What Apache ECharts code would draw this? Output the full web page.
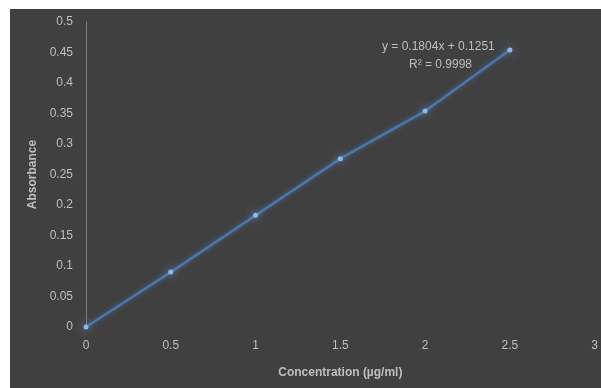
<!DOCTYPE html>
<html>
<head>
<meta charset="utf-8">
<script src="https://cdn.jsdelivr.net/npm/echarts@6/dist/echarts.min.js"></script>
<style>
  html, body { margin: 0; padding: 0; background: #ffffff; overflow: hidden; }
  #chart { position: absolute; left: 10px; top: 9px; width: 591px; height: 379px; background: #404040; }
</style>
</head>
<body>
<div id="chart"></div>
<script>
// Data
const concentration = [0, 0.5, 1, 1.5, 2, 2.5];
const absorbance = [0, 0.090, 0.183, 0.276, 0.354, 0.454];
const xTicks = { min: 0, max: 3, interval: 0.5 };
const yTicks = { min: 0, max: 0.5, interval: 0.05 };
const xTitle = 'Concentration (µg/ml)';
const yTitle = 'Absorbance';
const equationLines = ['y = 0.1804x + 0.1251', 'R² = 0.9998'];

const points = concentration.map((x, i) => [x, absorbance[i]]);
const labelColor = '#bfbfbf';
const font = 'Liberation Sans, Arial, sans-serif';

const chart = echarts.init(document.getElementById('chart'));
chart.setOption({
  backgroundColor: '#404040',
  animation: false,
  grid: { left: 76, width: 514, top: 13, height: 305, containLabel: false },
  xAxis: {
    type: 'value',
    min: xTicks.min, max: xTicks.max, interval: xTicks.interval,
    axisLine: { show: false },
    axisTick: { show: false },
    splitLine: { show: false },
    axisLabel: { color: labelColor, fontSize: 12, fontFamily: font, margin: 13 },
    name: xTitle,
    nameLocation: 'middle',
    nameGap: 40,
    nameTextStyle: { color: labelColor, fontSize: 12, fontWeight: 'bold', fontFamily: font }
  },
  yAxis: {
    type: 'value',
    min: yTicks.min, max: yTicks.max, interval: yTicks.interval,
    axisLine: { show: true, lineStyle: { color: '#808080', width: 1 } },
    axisTick: { show: false },
    splitLine: { show: false },
    axisLabel: { color: labelColor, fontSize: 12, fontFamily: font, margin: 13 },
    name: yTitle,
    nameLocation: 'middle',
    nameGap: 42,
    nameRotate: 90,
    nameTextStyle: { color: labelColor, fontSize: 12, fontWeight: 'bold', fontFamily: font }
  },
  graphic: [
    {
      type: 'text', left: 372, top: 32,
      style: { text: equationLines[0], fill: labelColor, font: '12px ' + font }
    },
    {
      type: 'text', left: 399, top: 50,
      style: { text: equationLines[1], fill: labelColor, font: '12px ' + font }
    }
  ],
  series: [{
    type: 'line',
    data: points,
    symbol: 'circle',
    symbolSize: 5,
    lineStyle: { color: '#4a76aa', width: 2.5, shadowColor: 'rgba(79,125,179,0.6)', shadowBlur: 5 },
    itemStyle: { color: '#8db8ec', shadowColor: 'rgba(120,170,235,1)', shadowBlur: 10 },
    z: 3
  }]
});
</script>
</body>
</html>
